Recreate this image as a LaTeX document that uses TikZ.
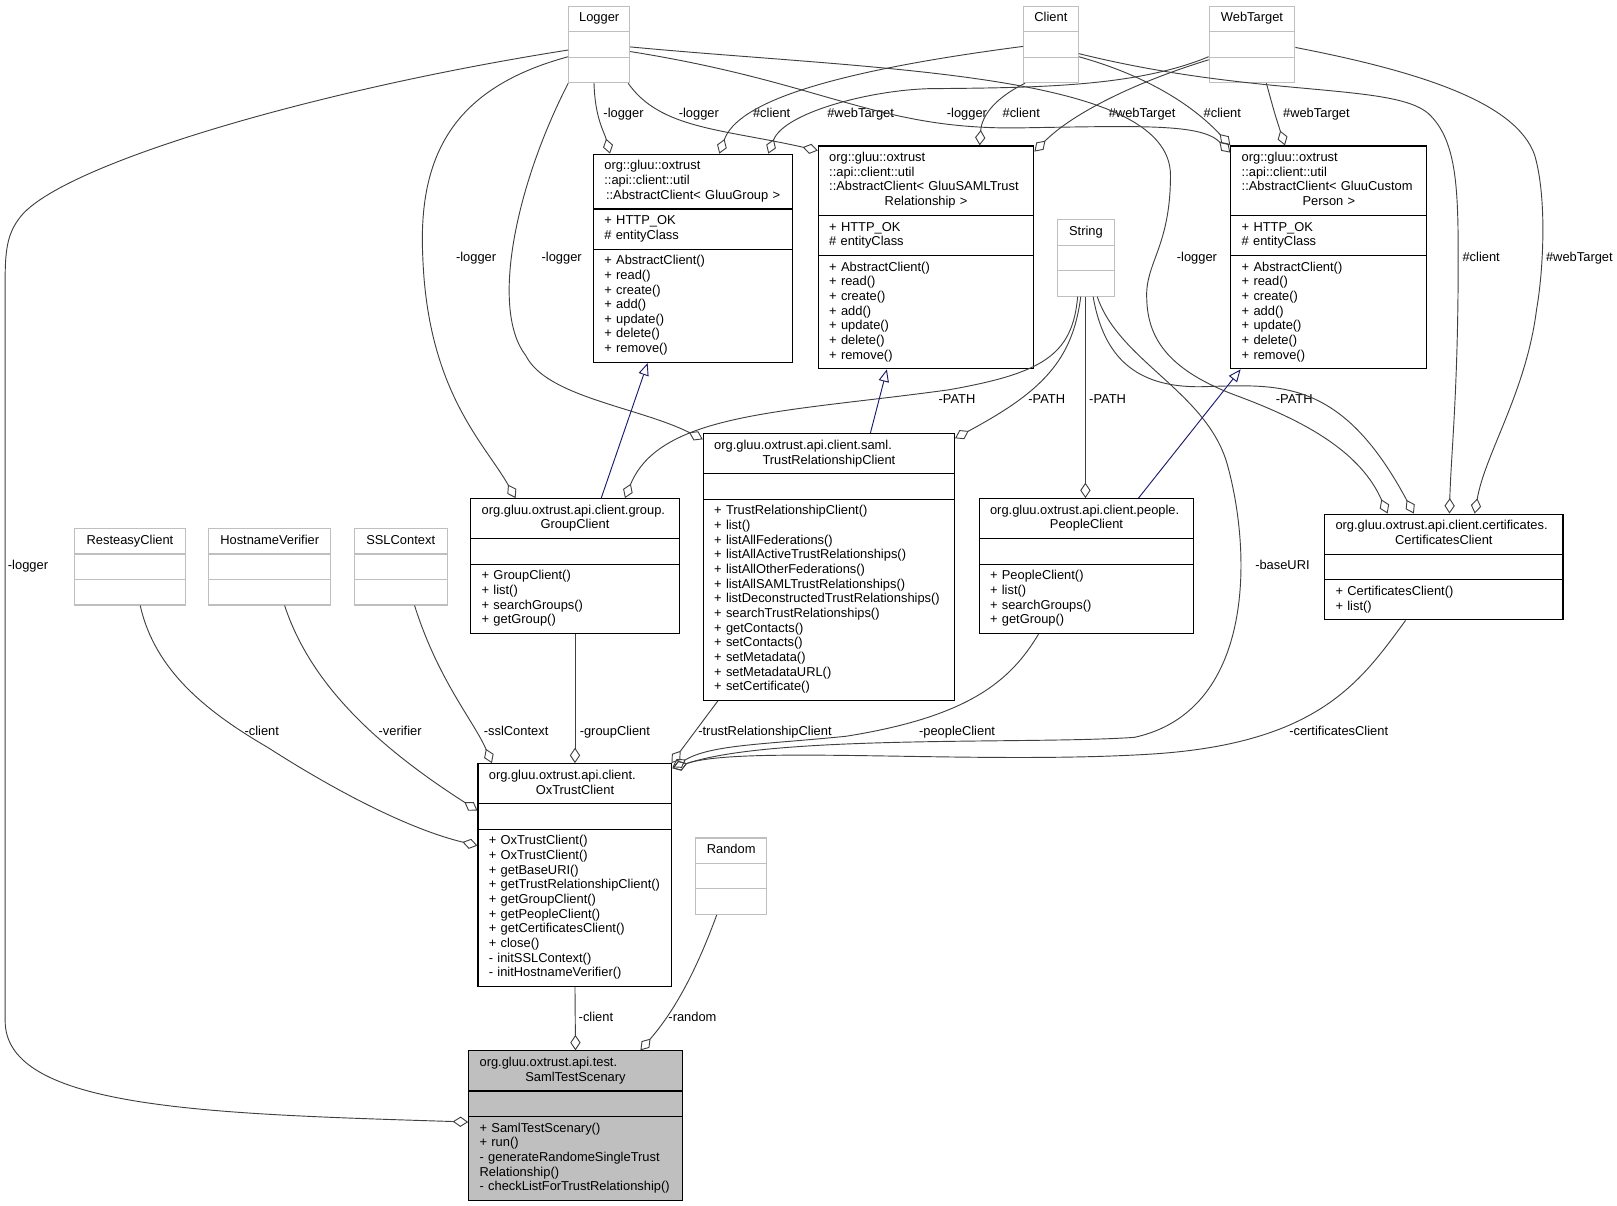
\documentclass[tikz,border=0pt]{standalone}
\usepackage{fontspec}
\setmainfont{Liberation Sans}
\usetikzlibrary{arrows.meta,calc,shapes.multipart}
\definecolor{edgegray}{HTML}{404040}
\definecolor{boxgray}{HTML}{BFBFBF}
\definecolor{inhblue}{HTML}{191970}
\newcommand{\classfont}{\fontsize{12.5}{14.2}\selectfont}
\newcommand{\cenline}[1]{\makebox[\hsize][c]{#1}}

\begin{document}
\begin{tikzpicture}[x=1pt, y=-1pt,
    umlclass/.style={rectangle split, rectangle split parts=3, draw=black, fill=white, line width=1.1pt, anchor=north west, inner xsep=10.5pt, inner ysep=4.7pt, align=left, font=\classfont},
    extclass/.style={rectangle split, rectangle split parts=3, draw=boxgray, fill=white, line width=1.1pt, anchor=north west, inner xsep=6pt, inner ysep=4.7pt, align=center, font=\classfont},
    aggr/.style={draw=edgegray, line width=0.9pt, -{Diamond[open, length=15pt, width=10pt]}},
    inherit/.style={draw=inhblue, line width=0.9pt, -{Triangle[open, length=12pt, width=10pt]}},
    elabel/.style={anchor=base west, inner sep=0pt, font=\classfont}]
          \useasboundingbox (0,0) rectangle (1568,1169);

          \node[extclass, text width=47pt] (logger) at (551,5.5) {\strut Logger\nodepart{two}\strut\nodepart{three}\strut};
          \node[extclass, text width=41pt] (client) at (992,5.5) {\strut Client\nodepart{two}\strut\nodepart{three}\strut};
          \node[extclass, text width=71pt] (webtarget) at (1172,5.5) {\strut WebTarget\nodepart{two}\strut\nodepart{three}\strut};
          \node[extclass, text width=43pt] (string) at (1025,212.5) {\strut String\nodepart{two}\strut\nodepart{three}\strut};
          \node[extclass, text width=95pt] (resteasy) at (72,512) {\strut ResteasyClient\nodepart{two}\strut\nodepart{three}\strut};
          \node[extclass, text width=106pt] (hostname) at (202,512) {\strut HostnameVerifier\nodepart{two}\strut\nodepart{three}\strut};
          \node[extclass, text width=78pt] (sslcontext) at (343,512) {\strut SSLContext\nodepart{two}\strut\nodepart{three}\strut};
          \node[extclass, text width=57pt] (random) at (674,812) {\strut Random\nodepart{two}\strut\nodepart{three}\strut};

          \node[umlclass, text width=172pt] (acgroup) at (575,149) {\strut org::gluu::oxtrust\\::api::client::util\\\cenline{::AbstractClient<~GluuGroup~>}\strut
            \nodepart{two}\strut +~HTTP\_OK\\\#~entityClass\strut
            \nodepart{three}\strut +~AbstractClient()\\+~read()\\+~create()\\+~add()\\+~update()\\+~delete()\\+~remove()\strut};
          \node[umlclass, text width=188pt] (acsaml) at (793,141) {\strut org::gluu::oxtrust\\::api::client::util\\::AbstractClient<~GluuSAMLTrust\\\cenline{Relationship~>}\strut
            \nodepart{two}\strut +~HTTP\_OK\\\#~entityClass\strut
            \nodepart{three}\strut +~AbstractClient()\\+~read()\\+~create()\\+~add()\\+~update()\\+~delete()\\+~remove()\strut};
          \node[umlclass, text width=169pt] (acperson) at (1193,141) {\strut org::gluu::oxtrust\\::api::client::util\\::AbstractClient<~GluuCustom\\\cenline{Person~>}\strut
            \nodepart{two}\strut +~HTTP\_OK\\\#~entityClass\strut
            \nodepart{three}\strut +~AbstractClient()\\+~read()\\+~create()\\+~add()\\+~update()\\+~delete()\\+~remove()\strut};
          \node[umlclass, text width=222.5pt] (trc) at (681.5,420) {\strut org.gluu.oxtrust.api.client.saml.\\\cenline{TrustRelationshipClient}\strut
            \nodepart{two}\strut
            \nodepart{three}\strut +~TrustRelationshipClient()\\+~list()\\+~listAllFederations()\\+~listAllActiveTrustRelationships()\\+~listAllOtherFederations()\\+~listAllSAMLTrustRelationships()\\+~listDeconstructedTrustRelationships()\\+~searchTrustRelationships()\\+~getContacts()\\+~setContacts()\\+~setMetadata()\\+~setMetadataURL()\\+~setCertificate()\strut};
          \node[umlclass, text width=181pt] (group) at (456,483) {\strut org.gluu.oxtrust.api.client.group.\\\cenline{GroupClient}\strut
            \nodepart{two}\strut
            \nodepart{three}\strut +~GroupClient()\\+~list()\\+~searchGroups()\\+~getGroup()\strut};
          \node[umlclass, text width=187pt] (people) at (949,483) {\strut org.gluu.oxtrust.api.client.people.\\\cenline{PeopleClient}\strut
            \nodepart{two}\strut
            \nodepart{three}\strut +~PeopleClient()\\+~list()\\+~searchGroups()\\+~getGroup()\strut};
          \node[umlclass, text width=210pt] (certs) at (1284,498) {\strut org.gluu.oxtrust.api.client.certificates.\\\cenline{CertificatesClient}\strut
            \nodepart{two}\strut
            \nodepart{three}\strut +~CertificatesClient()\\+~list()\strut};
          \node[umlclass, text width=167pt] (oxtrust) at (463,740) {\strut org.gluu.oxtrust.api.client.\\\cenline{OxTrustClient}\strut
            \nodepart{two}\strut
            \nodepart{three}\strut +~OxTrustClient()\\+~OxTrustClient()\\+~getBaseURI()\\+~getTrustRelationshipClient()\\+~getGroupClient()\\+~getPeopleClient()\\+~getCertificatesClient()\\+~close()\\-~initSSLContext()\\-~initHostnameVerifier()\strut};
          \node[umlclass, fill=boxgray, text width=186pt] (saml) at (454,1018.5) {\strut org.gluu.oxtrust.api.test.\\\cenline{SamlTestScenary}\strut
            \nodepart{two}\strut
            \nodepart{three}\strut +~SamlTestScenary()\\+~run()\\-~generateRandomeSingleTrust\\Relationship()\\-~checkListForTrustRelationship()\strut};

          \node[elabel] (lblog1) at (7.5,552.5) {-logger};
          \node[elabel] (lblog2) at (585,113.5) {-logger};
          \node[elabel] (lblog3) at (658,113.5) {-logger};
          \node[elabel] (lbcli1) at (730,113.5) {\#client};
          \node[elabel] (lbweb1) at (802,113.5) {\#webTarget};
          \node[elabel] (lblog4) at (918,113.5) {-logger};
          \node[elabel] (lbcli2) at (972,113.5) {\#client};
          \node[elabel] (lbweb2) at (1075,113.5) {\#webTarget};
          \node[elabel] (lbcli3) at (1167,113.5) {\#client};
          \node[elabel] (lbweb3) at (1244,113.5) {\#webTarget};
          \node[elabel] (lblog5) at (442,253.5) {-logger};
          \node[elabel] (lblog6) at (525,253.5) {-logger};
          \node[elabel] (lblog7) at (1141,253.5) {-logger};
          \node[elabel] (lbcli4) at (1418,253.5) {\#client};
          \node[elabel] (lbweb4) at (1499,253.5) {\#webTarget};
          \node[elabel] (lbpath1) at (910,391.5) {-PATH};
          \node[elabel] (lbpath2) at (997,391.5) {-PATH};
          \node[elabel] (lbpath3) at (1056,391.5) {-PATH};
          \node[elabel] (lbpath4) at (1237,391.5) {-PATH};
          \node[elabel] (lbbase) at (1217,552.5) {-baseURI};
          \node[elabel] (lbrest) at (237,713.5) {-client};
          \node[elabel] (lbver) at (367,713.5) {-verifier};
          \node[elabel] (lbssl) at (469,713.5) {-sslContext};
          \node[elabel] (lbgrp) at (562,713.5) {-groupClient};
          \node[elabel] (lbtrc) at (677,713.5) {-trustRelationshipClient};
          \node[elabel] (lbppl) at (891,713.5) {-peopleClient};
          \node[elabel] (lbcert) at (1250,713.5) {-certificatesClient};
          \node[elabel] (lbox) at (561,990.5) {-client};
          \node[elabel] (lbrnd) at (648,990.5) {-random};

          \draw[aggr] ($(logger.north west)+(0,43)$) .. controls (300,88) and (60,160) .. (20,210) .. controls (8,225) and (5,240) .. (5,270) -- (5,990) .. controls (5,1075) and (200,1080) .. ($(saml.north west)+(0,69.5)$);
          \draw[aggr] ($(logger.south west)+(25,0)$) .. controls (577,115) and (586,128) .. ($(acgroup.north west)+(16.5,0)$);
          \draw[aggr] ($(logger.south east)+(-2,0)$) .. controls (640,125) and (700,125) .. ($(acsaml.north west)+(0,5)$);
          \draw[aggr] ($(logger.north east)+(0,44.5)$) .. controls (800,80) and (850,126) .. (989,124) .. controls (1110,122) and (1165,120) .. ($(acperson.north west)+(0,7)$);
          \draw[aggr] ($(logger.north east)+(0,40)$) .. controls (850,68) and (1135,70) .. (1135,170) .. controls (1135,240) and (1110,255) .. (1112,290) .. controls (1113,330) and (1135,360) .. (1200,384) .. controls (1270,410) and (1320,440) .. ($(certs.north west)+(61.5,0)$);
          \draw[aggr] ($(logger.north west)+(0,49.5)$) .. controls (440,85) and (405,150) .. (410,250) .. controls (415,380) and (470,430) .. ($(group.north west)+(44,0)$);
          \draw[aggr] (logger.south west) .. controls (500,180) and (475,300) .. (510,345) .. controls (530,385) and (620,395) .. ($(trc.north west)+(0,6)$);
          \draw[aggr] ($(client.north west)+(0,39.5)$) .. controls (800,70) and (715,100) .. ($(acgroup.north west)+(122.5,0)$);
          \draw[aggr] ($(webtarget.north west)+(0,49.5)$) .. controls (1100,85) and (1000,85) .. (900,86) .. controls (840,88) and (760,110) .. ($(acgroup.north west)+(170,0)$);
          \draw[aggr] ($(client.south west)+(2,0)$) .. controls (965,95) and (952,112) .. ($(acsaml.north west)+(157,0)$);
          \draw[aggr] ($(webtarget.north west)+(0,52.5)$) .. controls (1100,80) and (1040,110) .. ($(acsaml.north east)+(0,6)$);
          \draw[aggr] ($(client.north east)+(0,49.5)$) .. controls (1100,70) and (1150,95) .. (acperson.north west);
          \draw[aggr] ($(webtarget.south west)+(56,0)$) .. controls (1236,110) .. ($(acperson.north west)+(53,0)$);
          \draw[aggr] ($(client.north east)+(0,46.5)$) .. controls (1220,95) and (1350,80) .. (1385,110) .. controls (1412,135) and (1414,180) .. (1414,250) .. controls (1414,380) and (1407,440) .. ($(certs.north west)+(121.5,0)$);
          \draw[aggr] ($(webtarget.north east)+(0,40.5)$) .. controls (1380,70) and (1470,100) .. (1488,150) .. controls (1500,190) and (1497,260) .. (1490,300) .. controls (1480,380) and (1440,440) .. ($(certs.north west)+(146,0)$);
          \draw[aggr] ($(string.south west)+(20,0)$) .. controls (1040,345) and (1010,362) .. (920,378) .. controls (760,400) and (640,400) .. ($(group.north west)+(150,0)$);
          \draw[aggr] ($(string.south west)+(23,0)$) .. controls (1040,350) and (1010,380) .. ($(trc.north east)+(0,5)$);
          \draw[aggr] ($(string.south west)+(27.5,0)$) -- ($(people.north west)+(103.5,0)$);
          \draw[aggr] ($(string.south west)+(35,0)$) .. controls (1070,345) and (1100,376) .. (1165,375) .. controls (1240,373) and (1300,365) .. ($(certs.north west)+(87,0)$);
          \draw[aggr] ($(string.south west)+(39,0)$) .. controls (1085,350) and (1170,380) .. (1190,450) .. controls (1215,540) and (1215,690) .. (1100,715) .. controls (1000,722) and (750,712) .. ($(oxtrust.north east)+(0,5)$);
          \draw[aggr] (group.south) -- (oxtrust.north);
          \draw[aggr] ($(trc.south west)+(14.5,0)$) -- ($(oxtrust.north east)+(-1,0)$);
          \draw[aggr] ($(people.south west)+(58,0)$) .. controls (980,660) and (940,695) .. (820,714) .. controls (740,722) and (690,722) .. ($(oxtrust.north east)+(0,4)$);
          \draw[aggr] ($(certs.south west)+(79,0)$) .. controls (1320,660) and (1280,720) .. (1120,731) .. controls (950,742) and (720,722) .. ($(oxtrust.north east)+(0,5)$);
          \draw[aggr] ($(resteasy.south west)+(64,0)$) .. controls (150,650) and (200,690) .. (260,725) .. controls (330,770) and (400,805) .. ($(oxtrust.north west)+(0,80)$);
          \draw[aggr] ($(hostname.south west)+(74,0)$) .. controls (300,660) and (360,720) .. ($(oxtrust.north west)+(0,46)$);
          \draw[aggr] ($(sslcontext.south west)+(59,0)$) .. controls (425,660) and (460,700) .. ($(oxtrust.north west)+(14,0)$);
          \draw[aggr] (oxtrust.south) -- (saml.north);
          \draw[aggr] ($(random.south west)+(21,0)$) .. controls (672,950) and (650,985) .. ($(saml.north west)+(167,0)$);
          \draw[inherit] ($(group.north west)+(127,0)$) -- ($(acgroup.south west)+(53,0)$);
          \draw[inherit] ($(trc.north west)+(162.5,0)$) -- ($(acsaml.south west)+(67,0)$);
          \draw[inherit] ($(people.north west)+(155,0)$) -- ($(acperson.south west)+(10,0)$);
        \end{tikzpicture}
\end{document}
